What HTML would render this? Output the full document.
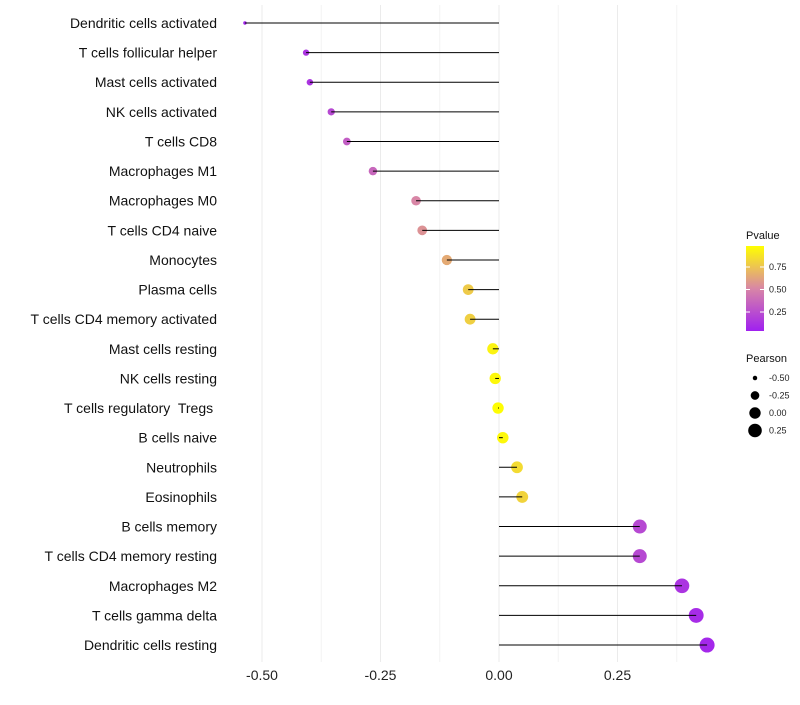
<!DOCTYPE html>
<html><head><meta charset="utf-8"><style>
body{margin:0;background:#fff;font-family:"Liberation Sans",sans-serif}
svg text{font-family:"Liberation Sans",sans-serif;white-space:pre}
</style></head><body>
<svg id="c" width="800" height="700"></svg>
<script>
const categories=["Dendritic cells activated","T cells follicular helper","Mast cells activated","NK cells activated","T cells CD8","Macrophages M1","Macrophages M0","T cells CD4 naive","Monocytes","Plasma cells","T cells CD4 memory activated","Mast cells resting","NK cells resting","T cells regulatory  Tregs ","B cells naive","Neutrophils","Eosinophils","B cells memory","T cells CD4 memory resting","Macrophages M2","T cells gamma delta","Dendritic cells resting"];
const pearson=[-0.536,-0.407,-0.399,-0.354,-0.321,-0.266,-0.175,-0.162,-0.110,-0.065,-0.061,-0.013,-0.008,-0.002,0.008,0.038,0.049,0.297,0.297,0.386,0.416,0.439];
const pvalue=[0.02,0.1,0.1,0.2,0.3,0.35,0.5,0.55,0.65,0.78,0.8,0.95,0.97,0.99,0.97,0.85,0.82,0.2,0.2,0.1,0.06,0.04];
const xTicks=[-0.5,-0.25,0,0.25];
const xTickLabels=["-0.50","-0.25","0.00","0.25"];
const pTicks=[0.25,0.5,0.75];
const sizeTicks=[-0.5,-0.25,0,0.25];
const sizeTickLabels=["-0.50","-0.25","0.00","0.25"];

const NS="http://www.w3.org/2000/svg";
const svg=document.getElementById('c');
function mk(t,a,p){const e=document.createElementNS(NS,t);for(const k in a)e.setAttribute(k,a[k]);(p||svg).appendChild(e);return e;}
const x=v=>499+474*v;
const y=i=>23+i*29.62;
const r=v=>Math.sqrt(Math.max(0.5,3+55*(v+0.536)));
function lerp(a,b,t){return a.map((c,i)=>Math.round(c+(b[i]-c)*t));}
function col(p){const s=[[160,32,240],[216,134,166],[255,255,0]];
 const c=p<0.5?lerp(s[0],s[1],p/0.5):lerp(s[1],s[2],(p-0.5)/0.5);return `rgb(${c})`;}
[-0.5,-0.375,-0.25,-0.125,0,0.125,0.25,0.375].forEach(v=>{
 const g=mk('line',{x1:x(v),x2:x(v),y1:5,y2:662,stroke:Number.isInteger(v*4)?'#ebebeb':'#f3f3f3','stroke-width':1});
 
 
});
xTicks.forEach((v,i)=>{
 const t=mk('text',{x:x(v),y:680,'text-anchor':'middle','font-size':14,fill:'#222'});t.textContent=xTickLabels[i];
 
 
});
categories.forEach((c,i)=>{
 const t=mk('text',{x:217,y:y(i)+5,'text-anchor':'end','font-size':14,fill:'#111'});t.textContent=c;
 
 
 const d=mk('circle',{cx:x(pearson[i]),cy:y(i),r:r(pearson[i]),fill:col(pvalue[i])});
 
 
 const l=mk('line',{x1:x(0),x2:x(pearson[i]),y1:y(i),y2:y(i),stroke:'#000','stroke-width':1});
 
 
});
const lt=mk('text',{x:746,y:239,'font-size':11,fill:'#111'});lt.textContent='Pvalue';


const defs=mk('defs',{});const gr=mk('linearGradient',{id:'pg',x1:0,y1:1,x2:0,y2:0},defs);
[0,0.25,0.5,0.75,1].forEach(t=>mk('stop',{offset:t,'stop-color':col(t)},gr));
const py=p=>334.5-90*p;
const bar=mk('rect',{x:746,y:246,width:18,height:85,fill:'url(#pg)'});


pTicks.forEach(p=>{
 mk('line',{x1:746,x2:750,y1:py(p),y2:py(p),stroke:'#fff'});mk('line',{x1:760,x2:764,y1:py(p),y2:py(p),stroke:'#fff'});
 const t=mk('text',{x:769,y:py(p)+3,'font-size':9,fill:'#222'});t.textContent=p.toFixed(2);
 
 
});
const st=mk('text',{x:746,y:362,'font-size':11,fill:'#111'});st.textContent='Pearson';


sizeTicks.forEach((v,i)=>{
 const cy=378+i*17.5;
 const c=mk('circle',{cx:755,cy:cy,r:r(v),fill:'#000'});
 
 
 const t=mk('text',{x:769,y:cy+3,'font-size':9,fill:'#222'});t.textContent=sizeTickLabels[i];
 
 
});
</script>
</body></html>
